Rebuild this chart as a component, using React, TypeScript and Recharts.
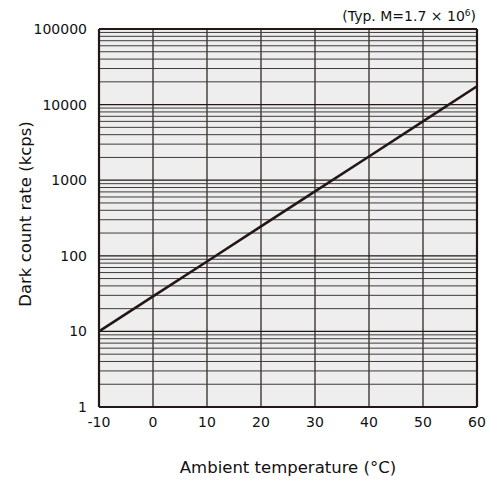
import React from 'react';
import { LineChart, Line, XAxis, YAxis, CartesianGrid, ReferenceLine } from 'recharts';

// Dark count rate vs ambient temperature (log scale)
const temperatures = [-10, 0, 10, 20, 30, 40, 50, 60];
const darkCountRate = [10, 29, 84, 245, 710, 2060, 6000, 17500];

const xTicks = [-10, 0, 10, 20, 30, 40, 50, 60];
const yTicks = [1, 10, 100, 1000, 10000, 100000];
const minorSteps = [2, 3, 4, 5, 6, 7, 8, 9];

const data = temperatures.map((t, i) => ({ t, rate: darkCountRate[i] }));
const minorValues = yTicks.slice(0, -1).flatMap((d) => minorSteps.map((m) => d * m));

const FONT = "'DejaVu Sans', Verdana, sans-serif";
const INK = '#231815';

export default function App() {
  return (
    <div style={{ position: 'absolute', left: 0, top: 0, width: 491, height: 481, background: '#fff' }}>
      <LineChart
        width={491}
        height={481}
        data={data}
        margin={{ top: 29, right: 14, bottom: 44, left: 39 }}
      >
        <CartesianGrid
          fill="#eeeeee"
          stroke={INK}
          strokeWidth={1.2}
          horizontalValues={yTicks}
          verticalValues={xTicks}
        />
        {minorValues.map((v) => (
          <ReferenceLine key={v} y={v} stroke="#3c3c3c" strokeWidth={1} />
        ))}
        <XAxis
          dataKey="t"
          type="number"
          domain={[-10, 60]}
          ticks={xTicks}
          axisLine={false}
          tickLine={false}
          height={30}
          tick={{ fill: '#111', fontSize: 14, fontFamily: FONT }}
          tickMargin={4}
          label={{
            content: (props: any) => {
              const vb = props.viewBox;
              return (
                <text x={vb.x + vb.width / 2} y={473} textAnchor="middle" fill="#111" fontSize={16.5} fontFamily={FONT}>
                  Ambient temperature (°C)
                </text>
              );
            },
          }}
        />
        <YAxis
          dataKey="rate"
          scale="log"
          domain={[1, 100000]}
          ticks={yTicks}
          allowDataOverflow
          axisLine={false}
          tickLine={false}
          width={60}
          tick={{ fill: '#111', fontSize: 14, fontFamily: FONT }}
          tickMargin={6}
          label={{
            content: (props: any) => {
              const vb = props.viewBox;
              const cx = 25;
              const cy = vb.y + vb.height / 2 - 4;
              return (
                <text x={cx} y={cy} transform={`rotate(-90 ${cx} ${cy})`} textAnchor="middle" dominantBaseline="central" fill="#111" fontSize={16.5} fontFamily={FONT}>
                  Dark count rate (kcps)
                </text>
              );
            },
          }}
        />
        <ReferenceLine x={-10} stroke={INK} strokeWidth={2.2} />
        <ReferenceLine x={60} stroke={INK} strokeWidth={2.2} />
        <ReferenceLine y={1} stroke={INK} strokeWidth={2.2} />
        <ReferenceLine y={100000} stroke={INK} strokeWidth={2.2} />
        <Line
          dataKey="rate"
          stroke={INK}
          strokeWidth={2.6}
          dot={false}
          isAnimationActive={false}
        />
        <text x={476} y={21} textAnchor="end" fill="#111" fontSize={14} fontFamily={FONT}>
          (Typ. M=1.7 × 10
          <tspan dy={-5} fontSize={9}>6</tspan>
          <tspan dy={5}>)</tspan>
        </text>
      </LineChart>
    </div>
  );
}
